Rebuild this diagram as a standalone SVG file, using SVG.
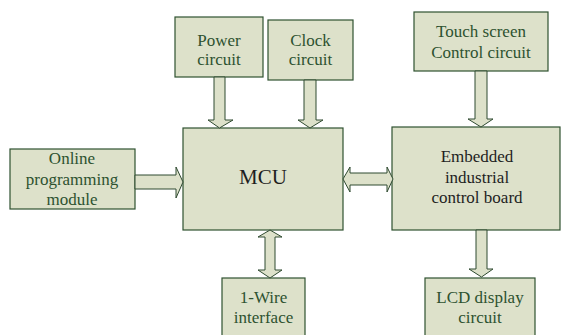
<svg xmlns="http://www.w3.org/2000/svg" width="566" height="335" viewBox="0 0 566 335">
<style>
.box{fill:#dde1ca;stroke:#2f5230;stroke-width:1.2}
.arr{fill:#dde1ca;stroke:#2f4a30;stroke-width:1}
text{font-family:'Liberation Serif','Tinos','Times New Roman','DejaVu Serif',serif;font-size:17px;text-anchor:middle;fill:#2d5230}
.k{fill:#1e1e1e}
</style>
<rect width="566" height="335" fill="#ffffff"/>
<g id="power"><rect class="box" x="175" y="17" width="88" height="60"/><text x="219" y="46">Power</text><text x="219" y="65">circuit</text></g>
<g id="clock"><rect class="box" x="268" y="20" width="85" height="60"/><text x="310.5" y="46">Clock</text><text x="310.5" y="65">circuit</text></g>
<g id="touch"><rect class="box" x="414" y="12" width="134" height="59"/><text x="481" y="37">Touch screen</text><text x="481" y="58">Control circuit</text></g>
<g id="online"><rect class="box" x="10" y="149" width="125" height="60"/><text x="72" y="164">Online</text><text x="72" y="185">programming</text><text x="72" y="205">module</text></g>
<g id="mcu"><rect class="box" x="183" y="128" width="160" height="102"/><text class="k" x="263" y="184" style="font-size:21px">MCU</text></g>
<g id="board"><rect class="box" x="392" y="127" width="168" height="103"/><text class="k" x="477" y="162">Embedded</text><text class="k" x="477" y="183">industrial</text><text class="k" x="477" y="203">control board</text></g>
<g id="wire"><rect class="box" x="222" y="278" width="83" height="62"/><text x="263.5" y="303">1-Wire</text><text x="263.5" y="323">interface</text></g>
<g id="lcd"><rect class="box" x="425" y="278" width="110" height="62"/><text x="480" y="303">LCD display</text><text x="480" y="323">circuit</text></g>
<g id="connectors">
<polygon class="arr" points="214,77 225,77 225,120 233,120 219.5,128 208,120 214,120"/>
<polygon class="arr" points="304,80 316,80 316,120 323,120 310,128 298,120 304,120"/>
<polygon class="arr" points="475,71 487,71 487,119 493,119 481,127 468,119 475,119"/>
<polygon class="arr" points="476,230 487,230 487,269 493,269 481.5,277 469,269 476,269"/>
<polygon class="arr" points="135,175 176,175 176,167 183,182 176,198 176,189 135,189"/>
<polygon class="arr" points="343,179 350,167 350,173 387,173 387,167 393,179 387,192 387,185 350,185 350,192"/>
<polygon class="arr" points="270,230 282,237 275,237 275,270 282,270 270,278 258,270 265,270 265,237 258,237"/>
</g>
</svg>
